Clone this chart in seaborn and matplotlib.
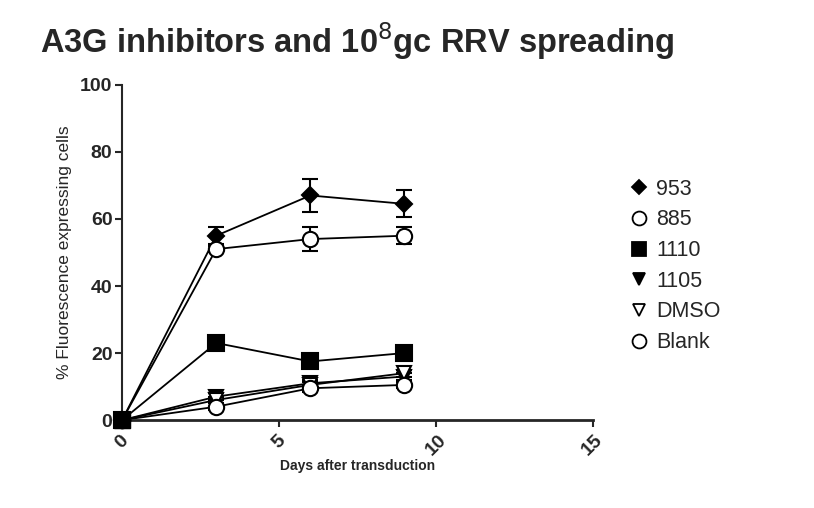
import pandas as pd
import seaborn as sns
import matplotlib.pyplot as plt
from matplotlib.lines import Line2D

# values
days = [0, 3, 6, 9]
series_names = ["953", "885", "1110", "1105", "DMSO", "Blank"]
v_953 = [0, 55, 67, 64.5]
v_885 = [0, 51, 54, 55]
v_1110 = [0, 23, 17.5, 20]
v_1105 = [0, 7, 11, 13]
v_dmso = [0, 6, 10.5, 14]
v_blank = [0, 4, 9.5, 10.5]
err_953 = [0, 2.5, 5, 4]
err_885 = [0, 1, 3.5, 2.5]
err_other = [0, 1, 1, 1]

values = [v_953, v_885, v_1110, v_1105, v_dmso, v_blank]
errors = [err_953, err_885, err_other, err_other, err_other, err_other]

rows = []
for name, vals in zip(series_names, values):
    for d, v in zip(days, vals):
        rows.append({"Day": d, "Value": v, "Series": name})
df = pd.DataFrame(rows)

sns.set_style("ticks")
plt.rcParams["font.family"] = ["Liberation Sans", "DejaVu Sans"]

fig = plt.figure(figsize=(8.14, 5.08), dpi=100)
ax = fig.add_axes([0.150, 0.173, 0.578, 0.660])

marker_map = {"953": "D", "885": "o", "1110": "s", "1105": "v", "DMSO": "v", "Blank": "o"}
face_map = {"953": "black", "885": "white", "1110": "black", "1105": "black", "DMSO": "white", "Blank": "white"}
size_map = {"953": 8, "885": 11, "1110": 11, "1105": 10, "DMSO": 10, "Blank": 11}

# draw lines with seaborn, then markers and error bars per series
sns.lineplot(data=df, x="Day", y="Value", hue="Series", palette=["black"] * 6,
             legend=False, ax=ax, linewidth=1.3, errorbar=None)

for name, vals, errs in zip(series_names, values, errors):
    ax.errorbar(days, vals, yerr=errs, fmt="none", ecolor="black", elinewidth=1.5, capsize=6, capthick=1.5, zorder=3)
    sub = df[df["Series"] == name]
    ax.plot(sub["Day"], sub["Value"], linestyle="none", marker=marker_map[name],
            markersize=size_map[name], markerfacecolor=face_map[name],
            markeredgecolor="black", markeredgewidth=1.5, zorder=4, clip_on=False)

# the 1110 square sits on top at the origin
ax.plot([days[0]], [v_1110[0]], linestyle="none", marker="s", markersize=11,
        color="black", zorder=5, clip_on=False)

ax.set_xlim(0, 15)
ax.set_ylim(0, 100)
ax.set_xticks([0, 5, 10, 15])
ax.set_yticks([0, 20, 40, 60, 80, 100])
ax.tick_params(axis="x", labelrotation=45, labelsize=14, width=1.5, length=5)
ax.tick_params(axis="y", labelsize=14, width=1.5, length=5, pad=2)
for lbl in ax.get_yticklabels() + ax.get_xticklabels():
    lbl.set_fontweight("bold")
sns.despine(ax=ax)
ax.spines["left"].set_linewidth(1.5)
ax.spines["bottom"].set_linewidth(2)

ax.set_xlabel("Days after transduction", fontsize=10, fontweight="bold", labelpad=0)
ax.set_ylabel("% Fluorescence expressing cells", fontsize=12.5, labelpad=6)
fig.text(0.049, 0.92, "A3G inhibitors and 10$^{8}$gc RRV spreading", fontsize=23.5,
         fontweight="bold", va="center")

handles = [Line2D([], [], linestyle="none", marker=marker_map[n], markersize=size_map[n] - 1,
                  markerfacecolor=face_map[n], markeredgecolor="black", markeredgewidth=1.3)
           for n in series_names]
ax.legend(handles, series_names, loc="center left", bbox_to_anchor=(1.03, 0.46), frameon=False,
          fontsize=15.5, handletextpad=0.2, labelspacing=0.45, handlelength=1.2)

fig.savefig("out.png", dpi=100)
